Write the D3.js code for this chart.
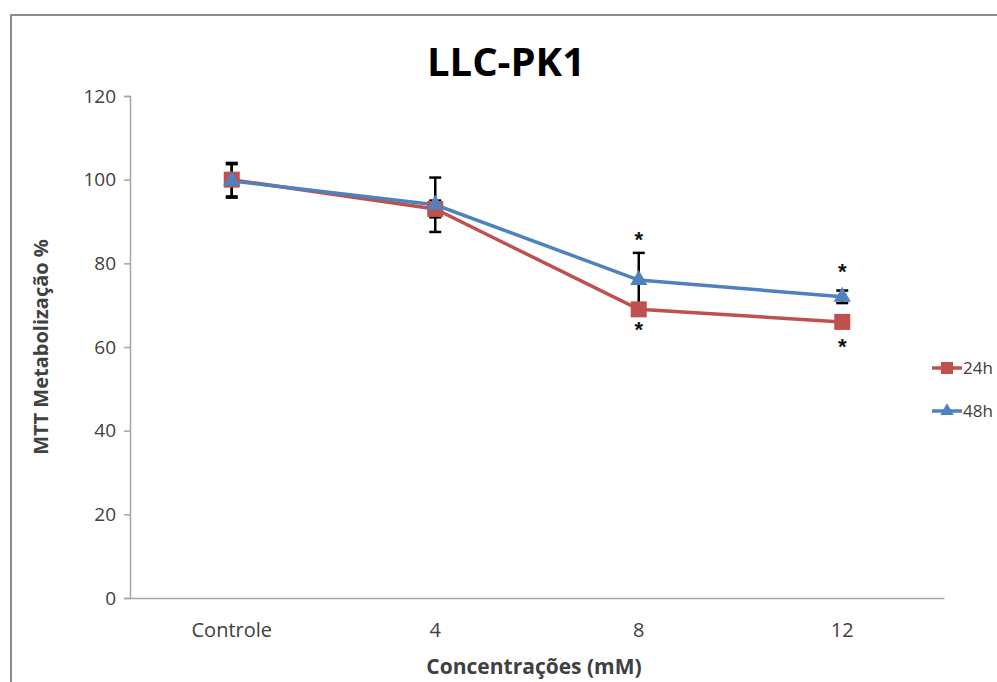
<!DOCTYPE html>
<html><head><meta charset="utf-8">
<script src="https://cdn.jsdelivr.net/npm/d3@7"></script>
<style>body{margin:0;background:#fff}svg{display:block}</style>
</head><body><svg id="c" width="997" height="682"></svg>
<script>
const categories = ["Controle", "4", "8", "12"];
const series24 = [100, 93, 69, 66];
const series48 = [99.7, 94, 76, 72];
const err24 = [4, 2, 1, 1];
const err48 = [4, 6.5, 6.5, 1.5];
const yTicks = [0, 20, 40, 60, 80, 100, 120];
const starsAbove = [null, null, 86.5, 79];
const starsBelow = [null, null, 65, 61];
const seriesNames = ["24h", "48h"];
const colors = ["#C0504D", "#4F81BD"];

const svg = d3.select("#c");
const font = "'Open Sans', 'Liberation Sans', sans-serif";

svg.append("rect").attr("x", 11).attr("y", 15).attr("width", 1000).attr("height", 700)
  .attr("fill", "#fff").attr("stroke", "#8c8c8c").attr("stroke-width", 2);

const x = d3.scaleBand().domain(categories).range([130, 944]);
const y = d3.scaleLinear().domain([0, 120]).range([598, 96]);

// Axes
const yAxis = d3.axisLeft(y).tickValues(yTicks).tickSize(6).tickPadding(8);
const gy = svg.append("g").attr("transform", "translate(130,0)").call(yAxis);
gy.select(".domain").attr("stroke", "#a6a6a6").attr("stroke-width", 1.5);
gy.selectAll(".tick line").attr("stroke", "#a6a6a6").attr("stroke-width", 1.5);
gy.selectAll("text").attr("font-family", font).attr("font-size", 19).attr("fill", "#404040");

const xAxis = d3.axisBottom(x).tickSize(0).tickPadding(25);
const gx = svg.append("g").attr("transform", "translate(0,598)").call(xAxis);
gx.select(".domain").attr("stroke", "#a6a6a6").attr("stroke-width", 1.5);
gx.selectAll("text").attr("font-family", font).attr("font-size", 20).attr("fill", "#404040");

const cx = d => x(d) + x.bandwidth() / 2;
const allSeries = [series24, series48];
const allErr = [err24, err48];

// Lines
const line = d3.line().x((d, i) => cx(categories[i])).y(d => y(d));
allSeries.forEach((s, k) => {
  svg.append("path").datum(s).attr("d", line).attr("fill", "none")
    .attr("stroke", colors[k]).attr("stroke-width", 3.5);
});

// Error bars
allSeries.forEach((s, k) => {
  const g = svg.append("g");
  s.forEach((v, i) => {
    const e = allErr[k][i];
    const xx = cx(categories[i]);
    g.append("line").attr("x1", xx).attr("x2", xx).attr("y1", y(v - e)).attr("y2", y(v + e))
      .attr("stroke", "#000").attr("stroke-width", 2.5);
    [v - e, v + e].forEach(t => g.append("line").attr("x1", xx - 6).attr("x2", xx + 6)
      .attr("y1", y(t)).attr("y2", y(t)).attr("stroke", "#000").attr("stroke-width", 2.5));
  });
});

// Markers
series24.forEach((v, i) => {
  svg.append("rect").attr("x", cx(categories[i]) - 8).attr("y", y(v) - 8)
    .attr("width", 16).attr("height", 16).attr("fill", colors[0]);
});
const tri = d3.symbol().type(d3.symbolTriangle).size(130);
series48.forEach((v, i) => {
  svg.append("path").attr("d", tri).attr("transform", `translate(${cx(categories[i])},${y(v)})`)
    .attr("fill", colors[1]);
});

// Stars
[starsAbove, starsBelow].forEach(arr => arr.forEach((v, i) => {
  if (v == null) return;
  svg.append("text").attr("x", cx(categories[i])).attr("y", y(v) + 11)
    .attr("text-anchor", "middle").attr("font-family", "'Liberation Sans', sans-serif")
    .attr("font-weight", "bold").attr("font-size", 22).attr("fill", "#111").text("*");
}));

// Title and axis titles
svg.append("text").attr("x", 506).attr("y", 76).attr("text-anchor", "middle")
  .attr("font-family", font).attr("font-weight", "bold").attr("font-size", 40).attr("fill", "#000").text("LLC-PK1");
svg.append("text").attr("x", 534).attr("y", 674).attr("text-anchor", "middle")
  .attr("font-family", font).attr("font-weight", "bold").attr("font-size", 21).attr("fill", "#404040").text("Concentrações (mM)");
svg.append("text").attr("transform", "translate(48,347) rotate(-90)").attr("text-anchor", "middle")
  .attr("font-family", font).attr("font-weight", "bold").attr("font-size", 20).attr("fill", "#404040").text("MTT Metabolização %");

// Legend
seriesNames.forEach((n, k) => {
  const ly = 368 + k * 43;
  const g = svg.append("g");
  g.append("line").attr("x1", 932).attr("x2", 962).attr("y1", ly).attr("y2", ly)
    .attr("stroke", colors[k]).attr("stroke-width", 3.5);
  if (k === 0) g.append("rect").attr("x", 941).attr("y", ly - 6).attr("width", 12).attr("height", 12).attr("fill", colors[0]);
  else g.append("path").attr("d", d3.symbol().type(d3.symbolTriangle).size(80)).attr("transform", `translate(947,${ly})`).attr("fill", colors[1]);
  g.append("text").attr("x", 963).attr("y", ly + 6).attr("font-family", font).attr("font-size", 17)
    .attr("fill", "#404040").text(n);
});
</script></body></html>
